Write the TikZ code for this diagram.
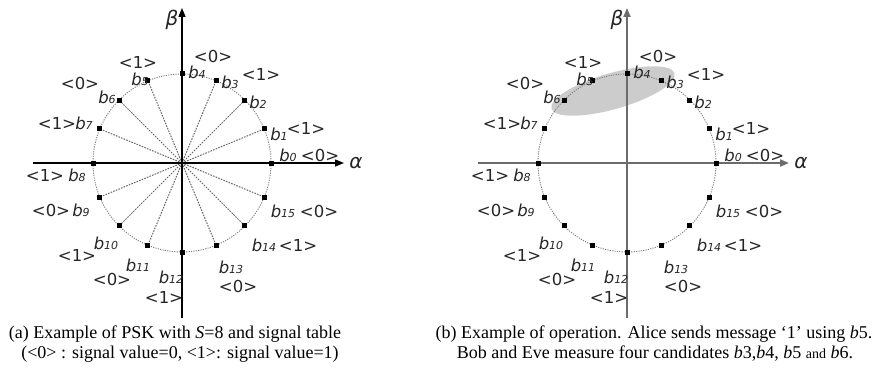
\documentclass[tikz,border=0pt]{standalone}
\usepackage{fontspec}
\setmainfont{Liberation Serif}
\newfontfamily\labfont{DejaVu Sans}
\usetikzlibrary{arrows.meta,calc}
\newcommand\bb[1]{\textit{b}{\fontsize{11}{11}\selectfont\textit{#1}}}
\newcommand\labelset[1]{%
  \node[lab] (#1l4a) at (213,56) {<0>};
  \node[lab] (#1l4b) at (197,72) {\bb{4}};
  \node[lab] (#1l3b) at (230,82) {\bb{3}};
  \node[lab] (#1l3a) at (261,74) {<1>};
  \node[lab] (#1l2b) at (258,102) {\bb{2}};
  \node[lab] (#1l1b) at (279,134) {\bb{1}};
  \node[lab] (#1l1a) at (306,128) {<1>};
  \node[lab] (#1l0b) at (288,155) {\bb{0}};
  \node[lab] (#1l0a) at (320,155) {<0>};
  \node[lab] (#1l5a) at (138,62) {<1>};
  \node[lab] (#1l5b) at (140,79) {\bb{5}};
  \node[lab] (#1l6a) at (80,83) {<0>};
  \node[lab] (#1l6b) at (107,97) {\bb{6}};
  \node[lab] (#1l7a) at (57,123) {<1>};
  \node[lab] (#1l7b) at (84,123) {\bb{7}};
  \node[lab] (#1l8a) at (45,175) {<1>};
  \node[lab] (#1l8b) at (77,175) {\bb{8}};
  \node[lab] (#1l9a) at (51,210) {<0>};
  \node[lab] (#1l9b) at (81,210) {\bb{9}};
  \node[lab] (#1l10b) at (106,243) {\bb{10}};
  \node[lab] (#1l10a) at (77,255) {<1>};
  \node[lab] (#1l11b) at (138,265) {\bb{11}};
  \node[lab] (#1l11a) at (112,279) {<0>};
  \node[lab] (#1l12b) at (171,277) {\bb{12}};
  \node[lab] (#1l12a) at (164,297) {<1>};
  \node[lab] (#1l13b) at (231,267) {\bb{13}};
  \node[lab] (#1l13a) at (238,286) {<0>};
  \node[lab] (#1l14b) at (264,245) {\bb{14}};
  \node[lab] (#1l14a) at (298,245) {<1>};
  \node[lab] (#1l15b) at (283,211) {\bb{15}};
  \node[lab] (#1l15a) at (319,211) {<0>};
  \node[greek] (#1alpha) at (356,163) {α};
  \node[greek] (#1beta) at (172,20) {β};
}
\newcommand\basecoords[1]{%
  \coordinate (#1O) at (182,163);
  \coordinate (#1xl) at (33,163);
  \coordinate (#1xr) at (344,163);
  \coordinate (#1yb) at (182,318);
  \coordinate (#1yt) at (182,8);
}
\begin{document}
\begin{tikzpicture}[x=1pt,y=-1pt,
  lab/.style={font=\labfont\fontsize{16.5}{16.5}\selectfont, inner sep=0pt, text=black!85},
  greek/.style={font=\labfont\itshape\fontsize{20}{20}\selectfont, inner sep=0pt, text=black!85},
  pt/.style={fill=black, minimum size=5pt, inner sep=0pt},
  ring/.style={draw=gray, line width=0.9pt, dash pattern=on 1.2pt off 1.2pt},
  ray/.style={draw=gray!80!black, line width=1pt, dash pattern=on 1.6pt off 1.2pt},
  axisA/.style={draw=black, line width=1.4pt, -{Triangle[length=9pt,width=7pt]}},
  axisB/.style={draw=gray!85!black, line width=2pt, -{Triangle[length=9pt,width=7pt]}},
  axisAn/.style={draw=black, line width=1.4pt},
  axisBn/.style={draw=gray!85!black, line width=2pt},
  shade/.style={fill=black!20, draw=none},
  captext/.style={font=\fontsize{18}{18}\selectfont, inner sep=0pt}]
\useasboundingbox (0,0) rectangle (874,385);
% ---------- panel (a)
\begin{scope}
  \basecoords{L}
  \draw[ring] (LO) circle (89);
  \foreach \k in {0,...,15}{\node[pt] (Lp\k) at ($(LO)+(-22.5*\k:89)$) {};}
  \foreach \k in {1,2,3,5,6,7,9,10,11,13,14,15}{\draw[ray] (LO) -- (Lp\k);}
  \draw[axisA] (Lxl) -- (Lxr);
  \draw[axisAn] (Lyb) -- (LO);
  \draw[axisA] (LO) -- (Lyt);
  \labelset{L}
\end{scope}
% ---------- panel (b)
\begin{scope}[xshift=445pt]
  \basecoords{R}
  \coordinate (Rell) at (168,91);
  \fill[shade, rotate around={16:(Rell)}] (Rell) ellipse (64 and 18);
  \draw[ring] (RO) circle (89);
  \draw[axisB] (Rxl) -- (Rxr);
  \draw[axisBn] (Ryb) -- (RO);
  \draw[axisB] (RO) -- (Ryt);
  \foreach \k in {0,...,15}{\node[pt] (Rp\k) at ($(RO)+(-22.5*\k:89)$) {};}
  \labelset{R}
\end{scope}
% ---------- captions
\node[captext] (capa1) at (175,334) {(a) Example of PSK with \textit{S}=8 and signal table};
\node[captext] (capa2) at (180,354) {(<0> : signal value=0, <1>: signal value=1)};
\node[captext] (capb1) at (654,334) {(b) Example of operation. Alice sends message `1' using \textit{b}5.};
\node[captext] (capb2) at (655,354) {Bob and Eve measure four candidates \textit{b}3,\textit{b}4, \textit{b}5 {\fontsize{14}{14}\selectfont and} \textit{b}6.};
\end{tikzpicture}
\end{document}
